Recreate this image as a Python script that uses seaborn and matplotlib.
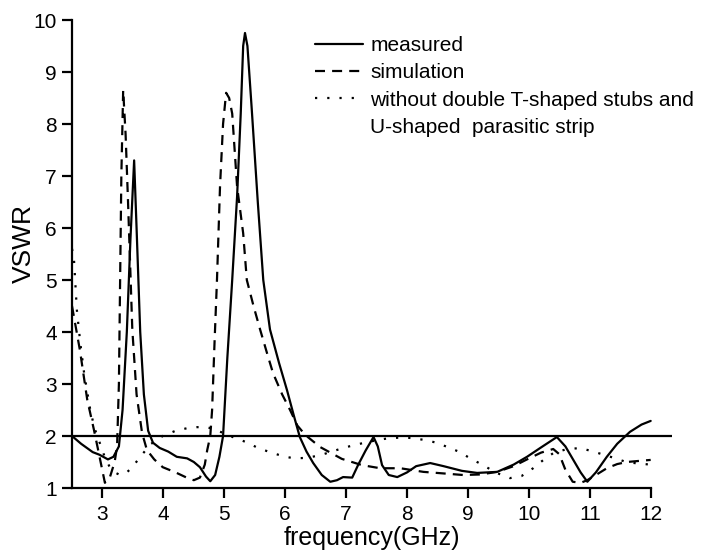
import numpy as np
import pandas as pd
import matplotlib
matplotlib.use("Agg")
import matplotlib.pyplot as plt
from matplotlib.lines import Line2D
import seaborn as sns

# values
measured_x = [2.5, 2.65, 2.84, 2.95, 3.09, 3.18, 3.27, 3.33, 3.40, 3.46, 3.52, 3.56, 3.62, 3.68,
              3.75, 3.83, 3.94, 4.08, 4.22, 4.39, 4.50, 4.60, 4.70, 4.77, 4.85, 4.92, 4.98,
              5.05, 5.13, 5.21, 5.27, 5.31, 5.34, 5.38, 5.45, 5.55, 5.64, 5.75, 5.90, 6.03,
              6.14, 6.24, 6.35, 6.46, 6.60, 6.74, 6.85, 6.95, 7.10, 7.20, 7.32, 7.45, 7.52,
              7.59, 7.70, 7.84, 8.0, 8.15, 8.38, 8.6, 8.9, 9.15, 9.48, 9.75, 9.97, 10.2,
              10.46, 10.6, 10.73, 10.85, 10.96, 11.1, 11.28, 11.45, 11.66, 11.85, 12.0]
measured_y = [2.0, 1.85, 1.69, 1.64, 1.55, 1.6, 1.8, 2.5, 4.0, 5.8, 7.3, 6.0, 4.0, 2.8,
              2.1, 1.87, 1.77, 1.7, 1.6, 1.57, 1.5, 1.4, 1.22, 1.13, 1.25, 1.6, 2.0,
              3.5, 5.0, 6.6, 8.2, 9.5, 9.75, 9.5, 8.3, 6.5, 5.0, 4.05, 3.4, 2.88,
              2.4, 1.98, 1.7, 1.48, 1.25, 1.12, 1.15, 1.21, 1.2, 1.45, 1.72, 1.98, 1.8,
              1.44, 1.25, 1.21, 1.3, 1.42, 1.48, 1.42, 1.33, 1.29, 1.31, 1.45, 1.6, 1.78,
              1.98, 1.8, 1.54, 1.3, 1.12, 1.3, 1.6, 1.85, 2.08, 2.22, 2.29]

sim_x = [2.5, 2.63, 2.75, 2.86, 2.94, 3.04, 3.12, 3.20, 3.24, 3.27, 3.29, 3.31, 3.34, 3.38,
         3.42, 3.49, 3.56, 3.65, 3.73, 3.85, 3.99, 4.2, 4.4, 4.5, 4.6, 4.68, 4.72, 4.77,
         4.80, 4.84, 4.88, 4.93, 4.98, 5.03, 5.08, 5.13, 5.21, 5.31, 5.37, 5.48, 5.59,
         5.70, 5.80, 5.95, 6.08, 6.20, 6.33, 6.57, 6.93, 7.26, 7.56, 7.89, 8.27, 8.6,
         8.92, 9.2, 9.48, 9.75, 9.97, 10.2, 10.4, 10.5, 10.6, 10.72, 10.85, 10.96, 11.1,
         11.28, 11.45, 11.61, 11.8, 12.0]
sim_y = [4.5, 3.65, 2.7, 2.12, 1.67, 1.1, 1.2, 1.5, 1.8, 3.0, 5.0, 7.0, 8.65, 7.8,
         6.5, 4.05, 2.8, 2.06, 1.73, 1.55, 1.4, 1.3, 1.19, 1.15, 1.2, 1.45, 1.73, 2.0,
         2.5, 3.8, 5.0, 6.8, 8.0, 8.6, 8.5, 8.2, 6.8, 5.9, 5.0, 4.5, 4.04,
         3.6, 3.21, 2.8, 2.5, 2.2, 2.02, 1.79, 1.56, 1.44, 1.38, 1.38, 1.31, 1.28,
         1.25, 1.26, 1.31, 1.42, 1.55, 1.68, 1.75, 1.65, 1.35, 1.12, 1.1, 1.15, 1.25,
         1.38, 1.46, 1.5, 1.52, 1.54]

without_x = [2.5, 2.53, 2.58, 2.64, 2.70, 2.80, 2.87, 2.94, 3.03, 3.12, 3.2, 3.29, 3.4, 3.49,
             3.64, 3.8, 3.99, 4.2, 4.39, 4.55, 4.72, 4.85, 4.98, 5.2, 5.39, 5.55, 5.8, 6.0,
             6.16, 6.36, 6.57, 6.74, 6.95, 7.15, 7.34, 7.55, 7.72, 7.92, 8.1, 8.3, 8.49,
             8.68, 8.87, 9.05, 9.25, 9.45, 9.69, 9.88, 10.07, 10.25, 10.4, 10.6, 10.84,
             11.06, 11.34, 11.6, 11.8, 12.0]
without_y = [5.6, 5.44, 4.42, 3.75, 3.2, 2.5, 2.15, 1.92, 1.62, 1.4, 1.3, 1.25, 1.3, 1.4,
             1.63, 1.85, 2.0, 2.1, 2.15, 2.17, 2.17, 2.12, 2.06, 1.95, 1.87, 1.77, 1.67, 1.6,
             1.57, 1.58, 1.63, 1.69, 1.77, 1.83, 1.88, 1.93, 1.96, 1.97, 1.96, 1.92, 1.87,
             1.78, 1.69, 1.56, 1.44, 1.3, 1.19, 1.23, 1.38, 1.55, 1.67, 1.74, 1.77,
             1.7, 1.6, 1.5, 1.47, 1.45]

labels = ["measured", "simulation", "without double T-shaped stubs and"]
extra_label = "U-shaped  parasitic strip"
vswr_ref = 2.0

sns.set_style("ticks")
plt.rcParams["font.family"] = ["Liberation Sans", "DejaVu Sans"]
# seaborn greys -> plain black like the original figure
for k in ("text.color", "axes.labelcolor", "xtick.color", "ytick.color", "axes.edgecolor"):
    plt.rcParams[k] = "black"

fig = plt.figure(figsize=(7.09, 5.56), dpi=100)
ax = fig.add_axes([72 / 709, 68 / 556, 600 / 709, 468 / 556])

lw = 1.6
dash_sim = (4.5, 3.2)
dash_dot = (1, 4.5)
sns.lineplot(x=measured_x, y=measured_y, ax=ax, color="black", lw=lw, sort=False)
sns.lineplot(x=sim_x, y=sim_y, ax=ax, color="black", lw=lw, sort=False).lines[-1].set_dashes(dash_sim)
sns.lineplot(x=without_x, y=without_y, ax=ax, color="black", lw=lw, sort=False).lines[-1].set_dashes(dash_dot)
ax.axhline(vswr_ref, color="black", lw=lw)

ax.set_xlim(2.5, 12.35)
ax.set_ylim(1, 10)
ax.set_xticks(range(3, 13))
ax.set_yticks(range(1, 11))
sns.despine(ax=ax)
ax.spines["bottom"].set_bounds(2.5, 12)
for s in ("left", "bottom"):
    ax.spines[s].set_linewidth(1.6)
    ax.spines[s].set_color("black")
ax.tick_params(axis="both", direction="out", length=7, width=1.6, labelsize=15, colors="black")
ax.tick_params(axis="x", pad=5)
ax.tick_params(axis="y", pad=4)
ax.set_xlabel("frequency(GHz)", fontsize=18, labelpad=2, color="black")
ax.set_ylabel("VSWR", fontsize=19, color="black")
ax.yaxis.set_label_coords(-0.06, 0.523)

handles = [Line2D([], [], color="black", lw=lw),
           Line2D([], [], color="black", lw=lw, dashes=dash_sim),
           Line2D([], [], color="black", lw=lw, dashes=dash_dot),
           Line2D([], [], color="none", lw=0)]
leg = ax.legend(handles, labels + [extra_label], loc="upper left",
                bbox_to_anchor=(0.405, 0.966), frameon=False, fontsize=15,
                handlelength=2.3, handletextpad=0.35, labelspacing=0.4,
                borderaxespad=0, borderpad=0)
for t in leg.get_texts():
    t.set_color("black")

fig.savefig("out.png", dpi=100)
